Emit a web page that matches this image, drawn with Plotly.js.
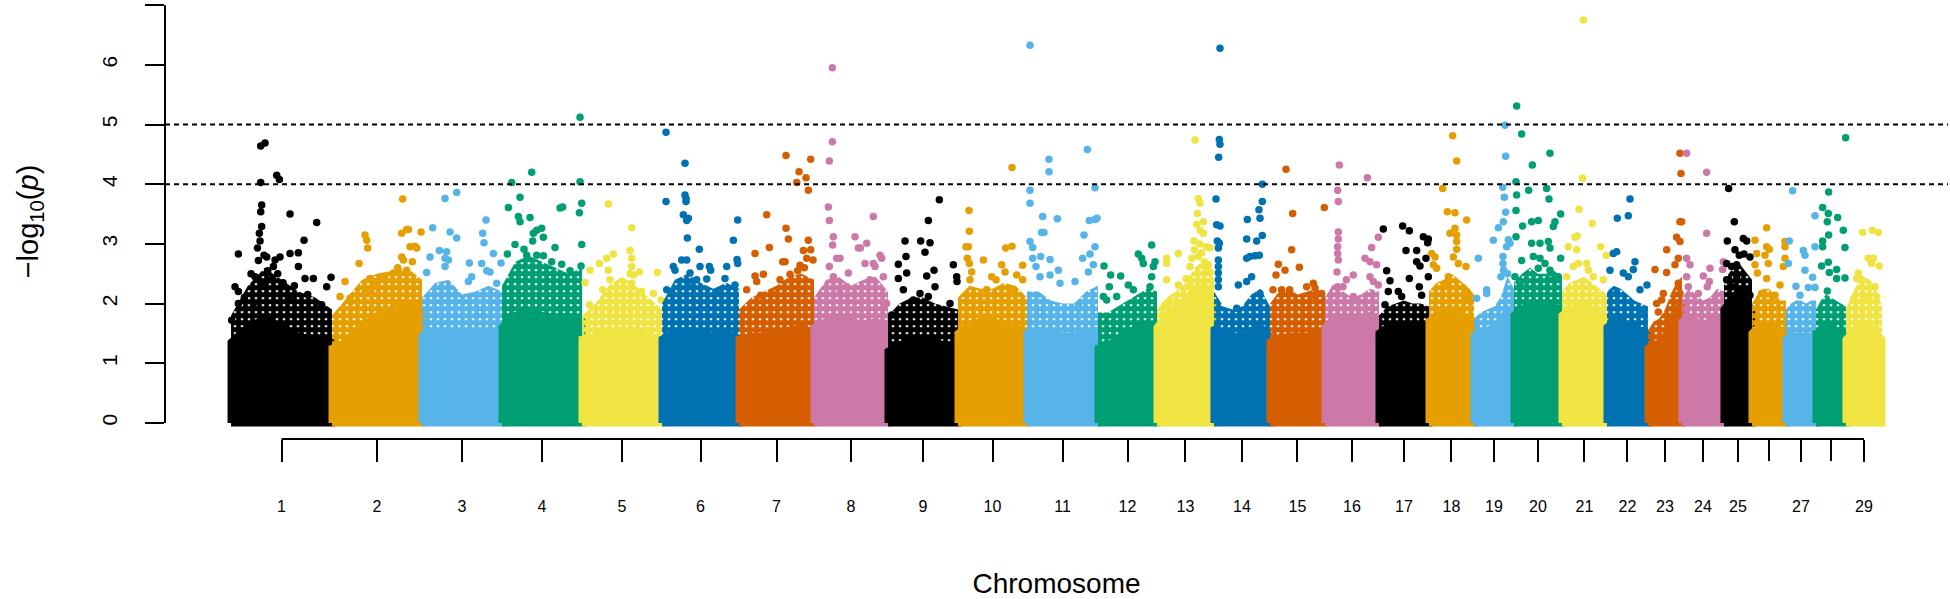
<!DOCTYPE html>
<html>
<head>
<meta charset="utf-8">
<script src="https://cdn.plot.ly/plotly-3.0.1.min.js"></script>
<style>
html,body{margin:0;padding:0;background:#ffffff;}
#chart{width:1950px;height:599px;}
</style>
</head>
<body>
<div id="chart"></div>
<script>
// ---------------- DATA ----------------
const chromosomes = [1,2,3,4,5,6,7,8,9,10,11,12,13,14,15,16,17,18,19,20,21,22,23,24,25,26,27,28,29];
// chromosome lengths (Mb) read from the widths of the coloured blocks
const chrLengthMb = [151.5,135,120,120,120,115.5,112.5,111,105,103.5,106.5,88.5,85.5,84,82.5,81,75,67.5,60,72,67.5,61.5,51,63,42,51,45,45,54];
// tick labels as printed (26 and 28 carry a tick but no label in the reference)
const chrTickLabels = ["1","2","3","4","5","6","7","8","9","10","11","12","13","14","15","16","17","18","19","20","21","22","23","24","25","","27","","29"];
// colour cycle (8 colours)
const palette = ["#000000","#E69F00","#56B4E9","#009E73","#F0E442","#0072B2","#D55E00","#CC79A7"];
// significance lines
const thresholds = [4, 5];
// level up to which the SNP cloud is solid, 7 readings evenly spaced along each chromosome (-log10 p)
const solidTop = [
  [1.35,1.6,1.75,1.6,1.45,1.4,1.35],
  [1.25,1.35,1.6,1.8,1.9,2.0,1.9],
  [1.45,1.5,1.55,1.45,1.5,1.5,1.45],
  [1.6,1.8,1.85,1.8,1.75,1.7,1.7],
  [1.4,1.45,1.5,1.55,1.5,1.45,1.4],
  [1.4,1.5,1.55,1.5,1.45,1.5,1.4],
  [1.4,1.45,1.45,1.5,1.55,1.6,1.5],
  [1.6,1.7,1.75,1.7,1.65,1.7,1.6],
  [1.2,1.3,1.4,1.4,1.35,1.3,1.3],
  [1.5,1.65,1.7,1.7,1.65,1.6,1.5],
  [1.5,1.55,1.5,1.45,1.45,1.5,1.55],
  [1.25,1.3,1.4,1.5,1.6,1.65,1.6],
  [1.6,1.8,1.9,2.0,2.2,2.3,2.0],
  [1.6,1.5,1.45,1.45,1.55,1.6,1.45],
  [1.35,1.4,1.45,1.45,1.45,1.5,1.5],
  [1.6,1.75,1.7,1.7,1.75,1.8,1.75],
  [1.5,1.6,1.6,1.65,1.6,1.6,1.6],
  [1.7,1.8,1.85,1.9,1.85,1.75,1.7],
  [1.45,1.5,1.55,1.6,1.65,1.9,1.8],
  [1.8,1.9,2.0,1.95,1.95,1.95,1.9],
  [1.8,1.9,1.95,2.0,1.9,1.8,1.7],
  [1.6,1.7,1.7,1.65,1.6,1.55,1.5],
  [1.25,1.3,1.35,1.45,1.7,1.9,2.0],
  [1.7,1.75,1.7,1.65,1.7,1.75,1.75],
  [1.9,2.0,2.1,2.2,2.1,2.0,1.9],
  [1.5,1.6,1.65,1.65,1.6,1.55,1.55],
  [1.4,1.45,1.45,1.45,1.45,1.45,1.45],
  [1.5,1.55,1.6,1.6,1.55,1.5,1.5],
  [1.4,1.5,1.6,1.65,1.6,1.5,1.4]
];
// upper edge of the loose (speckled) part of the SNP cloud, same 7 readings per chromosome
const denseTop = [
  [1.8,2.3,2.6,2.4,2.2,2.1,1.9],
  [1.8,2.1,2.4,2.5,2.55,2.6,2.4],
  [2.1,2.35,2.4,2.15,2.2,2.3,2.2],
  [2.3,2.7,2.8,2.7,2.6,2.5,2.6],
  [1.8,2.0,2.3,2.45,2.3,2.1,1.9],
  [2.0,2.4,2.5,2.35,2.25,2.35,2.25],
  [1.9,2.1,2.2,2.3,2.45,2.5,2.4],
  [2.1,2.4,2.45,2.3,2.4,2.45,2.2],
  [1.8,2.0,2.1,2.1,2.0,1.95,1.9],
  [2.1,2.3,2.25,2.25,2.35,2.3,2.1],
  [2.2,2.2,2.05,2.0,2.0,2.2,2.3],
  [1.85,1.85,1.95,2.05,2.15,2.25,2.2],
  [1.9,2.1,2.2,2.35,2.6,2.75,2.4],
  [2.2,1.95,1.9,1.95,2.15,2.25,1.95],
  [2.0,2.2,2.25,2.15,2.2,2.25,2.2],
  [2.1,2.35,2.2,2.1,2.15,2.25,2.2],
  [1.8,1.95,2.0,2.05,2.0,2.0,1.95],
  [2.2,2.35,2.4,2.5,2.4,2.3,2.15],
  [1.75,1.85,1.9,1.95,2.1,2.45,2.25],
  [2.35,2.5,2.6,2.5,2.5,2.55,2.45],
  [2.2,2.35,2.4,2.45,2.35,2.25,2.15],
  [2.2,2.3,2.25,2.15,2.05,2.0,1.95],
  [1.55,1.7,1.75,1.9,2.15,2.35,2.45],
  [2.1,2.25,2.15,2.05,2.1,2.25,2.2],
  [2.3,2.5,2.6,2.7,2.6,2.5,2.4],
  [2.0,2.15,2.25,2.25,2.15,2.05,2.05],
  [1.9,2.0,2.05,2.05,2.0,2.05,2.05],
  [1.9,2.05,2.15,2.1,2.05,2.0,1.95],
  [1.9,2.15,2.35,2.45,2.4,2.25,1.95]
];
// individual SNPs above the cloud: [chromosome, cumulative position (Mb), -log10 p]
const topSnps = [
[1,44.5,4.64],[1,51,4.69],[1,44.5,4.03],[1,68.5,4.15],[1,72.5,4.08],[1,46,3.65],[1,44.5,3.54],[1,88.5,3.5],[1,128.5,3.36],[1,46,3.29],[1,42.5,3.18],[1,43.5,3.05],[1,109.5,3.06],[1,11,2.83],[1,39.5,2.93],[1,49.5,2.81],[1,53.5,2.78],[1,66,2.73],[1,73.5,2.78],[1,88.5,2.84],[1,101,2.85],[1,41,2.72],[1,101,2.62],[1,6,2.28],[1,11,2.2],[1,36,2.45],[1,63.5,2.62],[1,111,2.42],[1,123.5,2.42],[1,150,2.44],[1,11,2.0],[1,33.5,2.0],[1,143.5,2.28],[1,86,2.09],[1,136,1.98],[1,1,1.72],[1,30,2.5],[1,55,2.55],[1,60,2.4],[1,78,2.35],[1,95,2.3],[1,115,2.15],[1,20,2.1],[1,70,2.5],[1,50,2.35],
[2,201,3.15],[2,203.5,3.06],[2,205,2.93],[2,192,2.67],[2,171,2.37],[2,208.5,2.42],[2,216,2.37],[2,163.5,2.12],[2,178.5,2.09],[2,201,2.23],[2,211,2.17],[2,257.5,3.75],[2,256,3.18],[2,263.5,3.24],[2,266,3.24],[2,285,3.2],[2,268.5,2.95],[2,276,2.96],[2,278.5,2.93],[2,256,2.78],[2,258.5,2.73],[2,243.5,2.51],[2,263.5,2.56],[2,230,2.45],[2,250,2.6],[2,272,2.7],
[3,321,3.76],[3,338.5,3.86],[3,302.5,3.27],[3,328.5,3.2],[3,338.5,3.1],[3,382.5,3.4],[3,377.5,3.18],[3,379.5,3.02],[3,312.5,2.89],[3,323.5,2.87],[3,298.5,2.78],[3,321,2.76],[3,326,2.73],[3,321,2.62],[3,357.5,2.68],[3,393.5,2.84],[3,405,2.68],[3,376,2.67],[3,383.5,2.55],[3,388.5,2.53],[3,293.5,2.52],[3,361,2.45],[3,356,2.37],[3,398.5,2.34],
[4,523.5,5.12],[4,451,4.2],[4,421,4.03],[4,523.5,4.04],[4,433.5,3.78],[4,416,3.61],[4,493.5,3.6],[4,497.5,3.62],[4,526,3.68],[4,522.5,3.52],[4,431,3.46],[4,433.5,3.37],[4,448.5,3.44],[4,453.5,3.18],[4,458.5,3.23],[4,466,3.26],[4,468.5,3.11],[4,426,2.99],[4,526,2.99],[4,439.5,2.91],[4,443.5,2.81],[4,452.5,3.05],[4,458.5,2.81],[4,468.5,2.8],[4,414.5,2.83],[4,486,2.94],[4,481,2.7],[4,496,2.66],[4,508.5,2.55],[4,525,2.63],
[5,566,3.67],[5,573.5,2.83],[5,563.5,2.76],[5,552.5,2.67],[5,538.5,2.56],[5,566,2.56],[5,568.5,2.4],[5,557.5,2.23],[5,531,2.35],[5,537.5,1.98],[5,601,3.27],[5,598.5,2.89],[5,601,2.76],[5,601,2.62],[5,603.5,2.48],[5,639.5,2.52],[5,612.5,2.53],[5,616,2.2],[5,633.5,2.17],[5,601,2.34],[5,598.5,2.5],[5,645,2.06],
[6,652.5,4.87],[6,681,4.35],[6,652.5,3.71],[6,681,3.82],[6,682.5,3.76],[6,682.5,3.71],[6,678.5,3.49],[6,686,3.43],[6,683.5,3.39],[6,760,3.4],[6,684.5,3.1],[6,753.5,3.06],[6,702.5,2.91],[6,676,2.73],[6,683.5,2.73],[6,663.5,2.62],[6,666,2.56],[6,703.5,2.62],[6,717.5,2.62],[6,719.5,2.56],[6,743.5,2.62],[6,759,2.74],[6,760,2.67],[6,688.5,2.51],[6,698.5,2.4],[6,713.5,2.41],[6,686,2.28],[6,741,2.42],[6,756,2.31],[6,653.5,2.23],[6,661,2.2],[6,728.5,2.17],
[7,832.5,4.48],[7,869.5,4.42],[7,852,4.21],[7,862.5,4.11],[7,848.5,4.03],[7,866,3.9],[7,803.5,3.49],[7,832.5,3.26],[7,836,3.08],[7,866,3.06],[7,807.5,2.94],[7,786,2.84],[7,858.5,2.89],[7,869.5,2.9],[7,827.5,2.7],[7,831,2.7],[7,853.5,2.64],[7,863.5,2.76],[7,873,2.73],[7,798.5,2.49],[7,786,2.46],[7,788.5,2.37],[7,838.5,2.49],[7,823.5,2.4],[7,773.5,2.23],[7,794.5,2.14],[7,811,2.17],[7,850,2.55],[7,860,2.6],
[8,902,5.95],[8,902,4.71],[8,897.5,4.39],[8,896,3.62],[8,897.5,3.39],[8,903.5,3.12],[8,902.5,2.98],[8,936,3.12],[8,941,2.93],[8,908.5,2.76],[8,913.5,2.76],[8,897.5,2.62],[8,926,2.51],[8,903.5,2.45],[8,913.5,2.17],[8,923.5,2.28],[8,963.5,3.46],[8,953.5,3.01],[8,944,2.93],[8,973.5,2.81],[8,976,2.76],[8,963.5,2.67],[8,966,2.62],[8,951,2.67],[8,978.5,2.45],[8,958.5,2.4],[8,983.5,2.0],
[9,1062.5,3.74],[9,1046,3.39],[9,1011,3.05],[9,1034.5,3.05],[9,1048.5,3.02],[9,1041,2.86],[9,1012.5,2.79],[9,1001,2.66],[9,1013.5,2.51],[9,1083.5,2.65],[9,1054.5,2.56],[9,1043.5,2.46],[9,1088.5,2.45],[9,1089,2.37],[9,1001,2.42],[9,1056,2.28],[9,1033.5,2.17],[9,1046,2.12],[9,1023.5,2.06],[9,1008.5,2.23],[9,1078.5,2.0],[9,991,1.81],
[10,1171.5,4.28],[10,1107,3.56],[10,1107.5,3.21],[10,1102.5,2.95],[10,1106,2.95],[10,1104.5,2.76],[10,1107.5,2.67],[10,1162,2.93],[10,1171.5,2.96],[10,1128.5,2.73],[10,1156,2.65],[10,1161,2.53],[10,1187.5,2.64],[10,1141,2.45],[10,1147.5,2.4],[10,1178.5,2.48],[10,1187.5,2.4],[10,1111,2.53],[10,1108.5,2.4],[10,1133.5,2.23],[10,1173.5,2.17],
[11,1198.5,6.33],[11,1227,4.42],[11,1227,4.21],[11,1284.5,4.58],[11,1296,3.94],[11,1198.5,3.9],[11,1198.5,3.68],[11,1217.5,3.46],[11,1239.5,3.42],[11,1216,3.19],[11,1219.5,3.19],[11,1198.5,3.04],[11,1202.5,2.94],[11,1287.5,3.39],[11,1296,3.41],[11,1299,3.43],[11,1279.5,3.15],[11,1296,2.95],[11,1288.5,2.83],[11,1277.5,2.76],[11,1202.5,2.76],[11,1207.5,2.62],[11,1214.5,2.79],[11,1228.5,2.74],[11,1241,2.56],[11,1286,2.53],[11,1293.5,2.65],[11,1213.5,2.45],[11,1228.5,2.48],[11,1243.5,2.34],[11,1266,2.37],[11,1271,1.98],
[12,1381,2.98],[12,1361,2.83],[12,1366,2.76],[12,1368.5,2.67],[12,1386,2.7],[12,1383.5,2.62],[12,1309.5,2.63],[12,1319.5,2.48],[12,1334.5,2.46],[12,1317.5,2.28],[12,1346,2.31],[12,1353.5,2.23],[12,1381,2.45],[12,1378.5,2.28],[12,1308.5,2.12],[12,1328.5,2.12],[12,1313.5,2.06],
[13,1446,4.74],[13,1451,3.76],[13,1453.5,3.68],[13,1449.5,3.51],[13,1448.5,3.33],[13,1458.5,3.37],[13,1453.5,3.23],[13,1458.5,3.18],[13,1444.5,3.05],[13,1453.5,3.0],[13,1463.5,2.95],[13,1468.5,2.93],[13,1421,2.84],[13,1441,2.76],[13,1451,2.79],[13,1403.5,2.76],[13,1403.5,2.67],[13,1438.5,2.62],[13,1466,2.65],[13,1468.5,2.53],[13,1432.5,2.42],[13,1438.5,2.34],[13,1403.5,2.4],[13,1421,2.31],[13,1401,1.98],[13,1411,2.03],[13,1445,2.9],[13,1456,2.85],[13,1460,2.7],
[14,1483.5,6.28],[14,1482.5,4.75],[14,1483.5,4.67],[14,1481.5,4.45],[14,1547,4.0],[14,1477.5,3.75],[14,1547,3.71],[14,1542,3.57],[14,1543.5,3.43],[14,1524.5,3.41],[14,1478.5,3.32],[14,1483.5,3.3],[14,1547,3.14],[14,1523.5,3.08],[14,1538.5,3.05],[14,1479.5,3.05],[14,1482.5,3.01],[14,1481,2.93],[14,1523.5,2.76],[14,1528.5,2.79],[14,1536,2.8],[14,1542.5,2.81],[14,1481,2.73],[14,1481,2.62],[14,1481,2.51],[14,1481,2.4],[14,1481,2.28],[14,1511,2.31],[14,1523.5,2.37],[14,1531,2.45],[14,1543.5,2.17],[14,1508.5,1.92],
[15,1582.5,4.25],[15,1592.5,3.51],[15,1640,3.61],[15,1591,2.9],[15,1571,2.66],[15,1581,2.56],[15,1602.5,2.61],[15,1567.5,2.48],[15,1613.5,2.28],[15,1623.5,2.34],[15,1626,2.26],[15,1623.5,2.14],[15,1636,2.17],[15,1563,2.23],[15,1576,2.23],[15,1588,2.23],
[16,1662.5,4.32],[16,1660,3.9],[16,1661,3.71],[16,1704.5,4.11],[16,1721,3.11],[16,1661,3.2],[16,1661,3.08],[16,1660,2.95],[16,1660,2.84],[16,1661,2.73],[16,1659,2.53],[16,1660,2.28],[16,1711,2.94],[16,1701,2.76],[16,1708.5,2.7],[16,1718.5,2.65],[16,1683.5,2.48],[16,1708.5,2.45],[16,1713.5,2.37],[16,1721,2.31],[16,1673,2.4],[16,1668,2.28],[16,1683.5,2.12],[16,1701,2.03],
[17,1728.5,3.25],[17,1757.5,3.3],[17,1767.5,3.22],[17,1788.5,3.12],[17,1796,3.08],[17,1795,3.02],[17,1762.5,2.89],[17,1778.5,2.89],[17,1778.5,2.7],[17,1783.5,2.63],[17,1792.5,2.76],[17,1733.5,2.55],[17,1738.5,2.38],[17,1767.5,2.42],[17,1796,2.45],[17,1751,2.2],[17,1756,2.12],[17,1736,2.2],[17,1782.5,2.28],[17,1786,2.14],[17,1731,1.98],
[18,1832.5,4.81],[18,1838.5,4.39],[18,1817.5,3.93],[18,1824.5,3.54],[18,1836,3.52],[18,1853.5,3.4],[18,1836,3.26],[18,1828.5,3.18],[18,1838.5,3.15],[18,1838.5,3.04],[18,1838.5,2.91],[18,1801,2.84],[18,1806,2.78],[18,1833.5,2.78],[18,1841,2.67],[18,1852.5,2.62],[18,1803.5,2.65],[18,1808.5,2.59],[18,1826,2.45],[18,1823.5,2.34],[18,1853.5,2.2],[18,1851,2.09],
[19,1911,4.99],[19,1912,4.47],[19,1907.5,3.95],[19,1910,3.78],[19,1912,3.53],[19,1908.5,3.37],[19,1901,3.27],[19,1893.5,3.06],[19,1916,3.07],[19,1918.5,3.01],[19,1913.5,2.95],[19,1871,2.76],[19,1908,2.79],[19,1908,2.67],[19,1909,2.56],[19,1883.5,2.23],[19,1883.5,2.17],[19,1868.5,2.09],[19,1905,2.45],[19,1915,2.5],
[20,1928.5,5.31],[20,1936,4.84],[20,1952,4.32],[20,1978.5,4.52],[20,1927.5,4.04],[20,1946.5,3.9],[20,1973.5,3.93],[20,1977,3.75],[20,1928.5,3.82],[20,1927.5,3.56],[20,1994.5,3.5],[20,1951,3.37],[20,1961,3.39],[20,1986,3.37],[20,1983.5,3.29],[20,1937.5,3.3],[20,1927.5,3.12],[20,1951,3.01],[20,1963.5,3.01],[20,1976,3.04],[20,1978.5,2.93],[20,1936,2.72],[20,1994.5,2.76],[20,1953.5,2.79],[20,1963.5,2.76],[20,1971,2.67],[20,1926,2.45],[20,1933.5,2.34],[20,1961,2.59],[20,1978.5,2.56],[20,1983.5,2.4],[20,1991,2.45],
[21,2028.5,6.75],[21,2027.5,4.1],[21,2022,3.58],[21,2042,3.34],[21,2016,3.11],[21,2019.5,3.13],[21,2006,2.95],[21,2018.5,2.9],[21,2054.5,2.95],[21,2063,2.81],[21,2013.5,2.62],[21,2021,2.67],[21,2033.5,2.67],[21,2003.5,2.45],[21,2036,2.56],[21,2043.5,2.45],[21,2058.5,2.4],
[22,2079.5,3.43],[22,2073.5,2.84],[22,2078.5,2.87],[22,2068.5,2.56],[22,2078.5,2.17],[22,2098.5,3.75],[22,2096,3.47],[22,2106,2.7],[22,2103.5,2.57],[22,2088.5,2.51],[22,2096,2.45],[22,2124,2.31],[22,2113.5,2.23],[22,2118.5,1.89],
[23,2173.5,4.52],[23,2175,4.18],[23,2173.5,3.37],[23,2176,3.37],[23,2168.5,3.11],[23,2173.5,3.04],[23,2153.5,2.9],[23,2136,2.57],[23,2153.5,2.52],[23,2166,2.65],[23,2171,2.76],[23,2148.5,2.17],[23,2146,2.06],[23,2138.5,2.0],[23,2141,1.86],[23,2171,2.34],[23,2173.5,2.17],
[24,2183.5,4.52],[24,2213.5,4.2],[24,2213.5,3.18],[24,2183.5,2.76],[24,2188.5,2.65],[24,2218.5,2.59],[24,2238.5,2.7],[24,2237.5,2.57],[24,2183.5,2.45],[24,2186,2.28],[24,2208.5,2.46],[24,2217.5,2.37],[24,2214.5,2.28],[24,2201,2.17],[24,2226,2.06],
[25,2246.5,3.93],[25,2255,3.37],[25,2244.5,3.05],[25,2268.5,3.09],[25,2273.5,3.05],[25,2256,2.9],[25,2262.5,2.81],[25,2269.5,2.83],[25,2278.5,2.78],[25,2243.5,2.67],[25,2251,2.62],[25,2258.5,2.65],[25,2258.5,2.46],[25,2243.5,2.4],[25,2251,2.28],[25,2273.5,2.23],[25,2278.5,2.14],
[26,2303.5,3.27],[26,2286,3.06],[26,2303.5,2.95],[26,2307.5,2.91],[26,2288.5,2.84],[26,2301,2.81],[26,2286,2.65],[26,2289.5,2.51],[26,2306,2.67],[26,2303.5,2.42],[26,2328.5,2.62],[26,2323.5,2.31],[26,2296,2.17],[26,2316,2.14],[26,2331,3.04],[26,2331,2.95],[26,2331,2.76],
[27,2342.5,3.89],[27,2337.5,3.05],[27,2336,2.67],[27,2376,3.47],[27,2358.5,2.89],[27,2361,2.81],[27,2376,2.95],[27,2361,2.56],[27,2372.5,2.44],[27,2347.5,2.29],[27,2353.5,2.14],[27,2366,2.27],[27,2376,2.27],
[28,2422,4.78],[28,2396.5,3.87],[28,2387.5,3.61],[28,2396,3.51],[28,2394.5,3.37],[28,2410,3.44],[28,2418.5,3.23],[28,2396.5,3.15],[28,2387.5,3.05],[28,2387.5,2.95],[28,2421,2.94],[28,2386,2.63],[28,2396,2.69],[28,2397.5,2.52],[28,2408.5,2.57],[28,2408.5,2.42],[28,2421,2.43],[28,2394.5,2.21],
[29,2447.5,3.19],[29,2462,3.23],[29,2471,3.19],[29,2456,2.76],[29,2461,2.67],[29,2463.5,2.76],[29,2472.5,2.63],[29,2441,2.51],[29,2446,2.4],[29,2438.5,2.42],[29,2466,2.28],[29,2468.5,2.12],[29,2448.5,2.12],[29,2433.5,2.06]
];

// ---------------- BUILD ----------------
const FONT = '"Liberation Sans", Arial, Helvetica, sans-serif';
const starts = [];
let acc = 0;
chrLengthMb.forEach(function(L){ starts.push(acc); acc += L; });
const totalLen = acc;
const centers = chrLengthMb.map(function(L,i){ return starts[i] + L/2; });
const colorOf = function(c){ return palette[(c-1) % palette.length]; };

function outline(i, tops){
  const s = starts[i], L = chrLengthMb[i], n = tops.length;
  const xs = [s], ys = [0];
  tops.forEach(function(v,k){ xs.push(s + L*k/(n-1)); ys.push(v); });
  xs.push(s+L); ys.push(0);
  xs.push(s); ys.push(0);
  return {x:xs, y:ys};
}

const traces = [];
chromosomes.forEach(function(c, i){
  const col = colorOf(c);
  const loose = outline(i, denseTop[i]);
  traces.push({
    type:'scatter', mode:'lines', x:loose.x, y:loose.y, fill:'toself',
    fillcolor:'rgba(0,0,0,0)', line:{color:col, width:0},
    fillpattern:{shape:'.', fgcolor:col, bgcolor:'rgba(255,255,255,0)', size:7, solidity:0.82, fillmode:'replace'},
    hoverinfo:'skip', showlegend:false
  });
  const core = outline(i, solidTop[i]);
  traces.push({
    type:'scatter', mode:'lines', x:core.x, y:core.y, fill:'toself',
    fillcolor:col, line:{color:col, width:7},
    hoverinfo:'skip', showlegend:false
  });
  const pts = topSnps.filter(function(p){ return p[0] === c; });
  traces.push({
    type:'scatter', mode:'markers',
    x:pts.map(function(p){ return p[1]; }),
    y:pts.map(function(p){ return p[2]; }),
    marker:{color:col, size:7.5, line:{width:0}},
    hovertemplate:'Chr '+c+'<br>%{x:.1f} Mb<br>%{y:.2f}<extra></extra>',
    showlegend:false
  });
});

const pad = 0.04*totalLen;
const yMax = 6.75, yPad = 0.04*yMax;
const plotH = 599 - 4 - 160;

// ticks that carry a label go through the axis; unlabelled ones are drawn as shapes
const labelledVals = [], labelledText = [];
const shapes = [
  {type:'line', xref:'paper', yref:'y', x0:0, x1:0, y0:0, y1:7, line:{color:'#000', width:2}},
  {type:'line', xref:'x', yref:'paper', x0:centers[0], x1:centers[centers.length-1], y0:0, y1:0, line:{color:'#000', width:2}}
];
centers.forEach(function(cx, i){
  if (chrTickLabels[i] !== "") { labelledVals.push(cx); labelledText.push(chrTickLabels[i]); }
  else shapes.push({type:'line', xref:'x', yref:'paper', x0:cx, x1:cx, y0:0, y1:-22/plotH, line:{color:'#000', width:2}});
});
thresholds.forEach(function(t){
  shapes.push({type:'line', xref:'paper', yref:'y', x0:0, x1:1, y0:t, y1:t, layer:'above',
    line:{color:'#000', width:2, dash:'5px,4px'}});
});

const layout = {
  width:1950, height:599,
  margin:{l:165, r:2, t:4, b:160},
  paper_bgcolor:'#ffffff', plot_bgcolor:'#ffffff',
  showlegend:false,
  font:{family:FONT, color:'#000'},
  xaxis:{
    range:[-pad, totalLen+pad], showgrid:false, zeroline:false, showline:false,
    tickmode:'array', tickvals:labelledVals, ticktext:labelledText,
    ticks:'outside', ticklen:22, tickwidth:2, tickcolor:'#000',
    tickfont:{family:FONT, size:16, color:'#000'}, ticklabelstandoff:31,
    title:{text:'Chromosome', font:{family:FONT, size:28, color:'#000'}, standoff:64}
  },
  yaxis:{
    range:[-yPad, yMax+yPad], showgrid:false, zeroline:false, showline:false,
    tickmode:'array', tickvals:[0,1,2,3,4,5,6,7], ticktext:['0','1','2','3','4','5','6','7'],
    ticks:'outside', ticklen:19, tickwidth:2, tickcolor:'#000', tickangle:-90,
    tickfont:{family:FONT, size:21, color:'#000'}, ticklabelstandoff:20,
    title:{text:'\u2212log<sub>10</sub>(<i>p</i>)', font:{family:FONT, size:29, color:'#000'}, standoff:50}
  },
  shapes:shapes
};

Plotly.newPlot('chart', traces, layout, {displayModeBar:false, staticPlot:true});
</script>
</body>
</html>
